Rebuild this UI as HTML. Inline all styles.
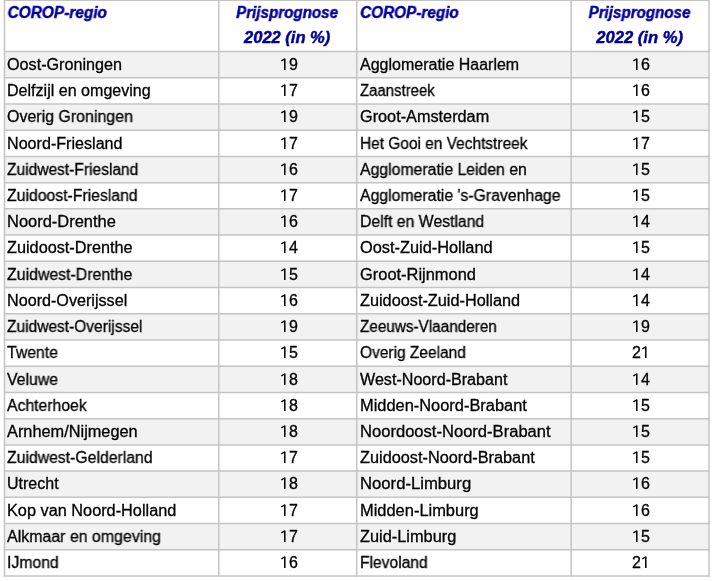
<!DOCTYPE html>
<html><head><meta charset="utf-8"><style>
html,body{margin:0;padding:0;background:#fff;}
body{width:714px;height:581px;position:relative;overflow:hidden;}
svg.grid{position:absolute;left:0;top:0;}
.t,.h{will-change:transform;}
.t{position:absolute;font-family:"Liberation Sans",sans-serif;font-size:16px;line-height:16px;color:#000;white-space:nowrap;-webkit-text-stroke:0.3px #000;}
.c{text-align:center;}
.one{vertical-align:baseline;overflow:visible;}
.h{position:absolute;font-family:"Liberation Sans",sans-serif;font-size:16px;line-height:16px;color:#00009c;font-weight:bold;font-style:italic;white-space:nowrap;-webkit-text-stroke:0.45px #00009c;}
.c2{text-align:center;}
</style></head><body>
<svg class="grid" width="714" height="581" viewBox="0 0 714 581">
<rect x="4.5" y="51.500" width="704.500" height="26.226" fill="#f2f2f2"/>
<rect x="4.5" y="103.952" width="704.500" height="26.226" fill="#f2f2f2"/>
<rect x="4.5" y="156.404" width="704.500" height="26.226" fill="#f2f2f2"/>
<rect x="4.5" y="208.856" width="704.500" height="26.226" fill="#f2f2f2"/>
<rect x="4.5" y="261.308" width="704.500" height="26.226" fill="#f2f2f2"/>
<rect x="4.5" y="313.760" width="704.500" height="26.226" fill="#f2f2f2"/>
<rect x="4.5" y="366.212" width="704.500" height="26.226" fill="#f2f2f2"/>
<rect x="4.5" y="418.664" width="704.500" height="26.226" fill="#f2f2f2"/>
<rect x="4.5" y="471.116" width="704.500" height="26.226" fill="#f2f2f2"/>
<rect x="4.5" y="523.568" width="704.500" height="26.226" fill="#f2f2f2"/>
<line x1="3.750" x2="709.750" y1="0.450" y2="0.450" stroke="#c4c4c4" stroke-width="1.1"/>
<line x1="3.750" x2="709.750" y1="51.500" y2="51.500" stroke="#c4c4c4" stroke-width="1.5"/>
<line x1="3.750" x2="709.750" y1="77.726" y2="77.726" stroke="#c4c4c4" stroke-width="1.5"/>
<line x1="3.750" x2="709.750" y1="103.952" y2="103.952" stroke="#c4c4c4" stroke-width="1.5"/>
<line x1="3.750" x2="709.750" y1="130.178" y2="130.178" stroke="#c4c4c4" stroke-width="1.5"/>
<line x1="3.750" x2="709.750" y1="156.404" y2="156.404" stroke="#c4c4c4" stroke-width="1.5"/>
<line x1="3.750" x2="709.750" y1="182.630" y2="182.630" stroke="#c4c4c4" stroke-width="1.5"/>
<line x1="3.750" x2="709.750" y1="208.856" y2="208.856" stroke="#c4c4c4" stroke-width="1.5"/>
<line x1="3.750" x2="709.750" y1="235.082" y2="235.082" stroke="#c4c4c4" stroke-width="1.5"/>
<line x1="3.750" x2="709.750" y1="261.308" y2="261.308" stroke="#c4c4c4" stroke-width="1.5"/>
<line x1="3.750" x2="709.750" y1="287.534" y2="287.534" stroke="#c4c4c4" stroke-width="1.5"/>
<line x1="3.750" x2="709.750" y1="313.760" y2="313.760" stroke="#c4c4c4" stroke-width="1.5"/>
<line x1="3.750" x2="709.750" y1="339.986" y2="339.986" stroke="#c4c4c4" stroke-width="1.5"/>
<line x1="3.750" x2="709.750" y1="366.212" y2="366.212" stroke="#c4c4c4" stroke-width="1.5"/>
<line x1="3.750" x2="709.750" y1="392.438" y2="392.438" stroke="#c4c4c4" stroke-width="1.5"/>
<line x1="3.750" x2="709.750" y1="418.664" y2="418.664" stroke="#c4c4c4" stroke-width="1.5"/>
<line x1="3.750" x2="709.750" y1="444.890" y2="444.890" stroke="#c4c4c4" stroke-width="1.5"/>
<line x1="3.750" x2="709.750" y1="471.116" y2="471.116" stroke="#c4c4c4" stroke-width="1.5"/>
<line x1="3.750" x2="709.750" y1="497.342" y2="497.342" stroke="#c4c4c4" stroke-width="1.5"/>
<line x1="3.750" x2="709.750" y1="523.568" y2="523.568" stroke="#c4c4c4" stroke-width="1.5"/>
<line x1="3.750" x2="709.750" y1="549.794" y2="549.794" stroke="#c4c4c4" stroke-width="1.5"/>
<line x1="3.750" x2="709.750" y1="576.020" y2="576.020" stroke="#c4c4c4" stroke-width="1.5"/>
<line x1="4.500" x2="4.500" y1="-0.300" y2="576.770" stroke="#c4c4c4" stroke-width="1.5"/>
<line x1="218.800" x2="218.800" y1="-0.300" y2="576.770" stroke="#c4c4c4" stroke-width="1.5"/>
<line x1="356.700" x2="356.700" y1="-0.300" y2="576.770" stroke="#c4c4c4" stroke-width="1.5"/>
<line x1="571.200" x2="571.200" y1="-0.300" y2="576.770" stroke="#c4c4c4" stroke-width="1.5"/>
<line x1="709.000" x2="709.000" y1="-0.300" y2="576.770" stroke="#c4c4c4" stroke-width="1.5"/>
</svg>
<div class="t" style="left:7.20px;top:56.86px;transform-origin:0.00px 50%;transform:translateX(0.00px) scaleX(1.0107);">Oost-Groningen</div>
<div class="t c" style="left:248.95px;top:56.86px;width:80px;"><svg class="one" width="8.9" height="12" viewBox="0 0 8.9 12"><rect x="4.05" y="0.60" width="1.5" height="11.40" fill="#000"/><line x1="1.3" y1="2.80" x2="4.8" y2="0.90" stroke="#000" stroke-width="1.35"/></svg>9</div>
<div class="t" style="left:7.20px;top:83.08px;transform-origin:0.00px 50%;transform:translateX(0.00px) scaleX(1.0036);">Delfzijl en omgeving</div>
<div class="t c" style="left:248.95px;top:83.08px;width:80px;"><svg class="one" width="8.9" height="12" viewBox="0 0 8.9 12"><rect x="4.05" y="0.60" width="1.5" height="11.40" fill="#000"/><line x1="1.3" y1="2.80" x2="4.8" y2="0.90" stroke="#000" stroke-width="1.35"/></svg>7</div>
<div class="t" style="left:7.20px;top:109.31px;transform-origin:0.00px 50%;transform:translateX(0.00px) scaleX(0.9968);">Overig Groningen</div>
<div class="t c" style="left:248.95px;top:109.31px;width:80px;"><svg class="one" width="8.9" height="12" viewBox="0 0 8.9 12"><rect x="4.05" y="0.60" width="1.5" height="11.40" fill="#000"/><line x1="1.3" y1="2.80" x2="4.8" y2="0.90" stroke="#000" stroke-width="1.35"/></svg>9</div>
<div class="t" style="left:7.20px;top:135.53px;transform-origin:0.00px 50%;transform:translateX(0.00px) scaleX(1.0071);">Noord-Friesland</div>
<div class="t c" style="left:248.95px;top:135.53px;width:80px;"><svg class="one" width="8.9" height="12" viewBox="0 0 8.9 12"><rect x="4.05" y="0.60" width="1.5" height="11.40" fill="#000"/><line x1="1.3" y1="2.80" x2="4.8" y2="0.90" stroke="#000" stroke-width="1.35"/></svg>7</div>
<div class="t" style="left:7.20px;top:161.76px;transform-origin:0.00px 50%;transform:translateX(0.00px) scaleX(0.9714);">Zuidwest-Friesland</div>
<div class="t c" style="left:248.95px;top:161.76px;width:80px;"><svg class="one" width="8.9" height="12" viewBox="0 0 8.9 12"><rect x="4.05" y="0.60" width="1.5" height="11.40" fill="#000"/><line x1="1.3" y1="2.80" x2="4.8" y2="0.90" stroke="#000" stroke-width="1.35"/></svg>6</div>
<div class="t" style="left:7.20px;top:187.99px;transform-origin:0.00px 50%;transform:translateX(0.00px) scaleX(0.9862);">Zuidoost-Friesland</div>
<div class="t c" style="left:248.95px;top:187.99px;width:80px;"><svg class="one" width="8.9" height="12" viewBox="0 0 8.9 12"><rect x="4.05" y="0.60" width="1.5" height="11.40" fill="#000"/><line x1="1.3" y1="2.80" x2="4.8" y2="0.90" stroke="#000" stroke-width="1.35"/></svg>7</div>
<div class="t" style="left:7.20px;top:214.21px;transform-origin:0.00px 50%;transform:translateX(0.00px) scaleX(1.0286);">Noord-Drenthe</div>
<div class="t c" style="left:248.95px;top:214.21px;width:80px;"><svg class="one" width="8.9" height="12" viewBox="0 0 8.9 12"><rect x="4.05" y="0.60" width="1.5" height="11.40" fill="#000"/><line x1="1.3" y1="2.80" x2="4.8" y2="0.90" stroke="#000" stroke-width="1.35"/></svg>6</div>
<div class="t" style="left:7.20px;top:240.44px;transform-origin:0.00px 50%;transform:translateX(0.00px) scaleX(1.0164);">Zuidoost-Drenthe</div>
<div class="t c" style="left:248.95px;top:240.44px;width:80px;"><svg class="one" width="8.9" height="12" viewBox="0 0 8.9 12"><rect x="4.05" y="0.60" width="1.5" height="11.40" fill="#000"/><line x1="1.3" y1="2.80" x2="4.8" y2="0.90" stroke="#000" stroke-width="1.35"/></svg>4</div>
<div class="t" style="left:7.20px;top:266.66px;transform-origin:0.00px 50%;transform:translateX(0.00px) scaleX(0.9920);">Zuidwest-Drenthe</div>
<div class="t c" style="left:248.95px;top:266.66px;width:80px;"><svg class="one" width="8.9" height="12" viewBox="0 0 8.9 12"><rect x="4.05" y="0.60" width="1.5" height="11.40" fill="#000"/><line x1="1.3" y1="2.80" x2="4.8" y2="0.90" stroke="#000" stroke-width="1.35"/></svg>5</div>
<div class="t" style="left:7.20px;top:292.89px;transform-origin:0.00px 50%;transform:translateX(0.00px) scaleX(1.0094);">Noord-Overijssel</div>
<div class="t c" style="left:248.95px;top:292.89px;width:80px;"><svg class="one" width="8.9" height="12" viewBox="0 0 8.9 12"><rect x="4.05" y="0.60" width="1.5" height="11.40" fill="#000"/><line x1="1.3" y1="2.80" x2="4.8" y2="0.90" stroke="#000" stroke-width="1.35"/></svg>6</div>
<div class="t" style="left:7.20px;top:319.12px;transform-origin:0.00px 50%;transform:translateX(0.00px) scaleX(0.9695);">Zuidwest-Overijssel</div>
<div class="t c" style="left:248.95px;top:319.12px;width:80px;"><svg class="one" width="8.9" height="12" viewBox="0 0 8.9 12"><rect x="4.05" y="0.60" width="1.5" height="11.40" fill="#000"/><line x1="1.3" y1="2.80" x2="4.8" y2="0.90" stroke="#000" stroke-width="1.35"/></svg>9</div>
<div class="t" style="left:7.20px;top:345.34px;transform-origin:0.00px 50%;transform:translateX(0.00px) scaleX(0.9880);">Twente</div>
<div class="t c" style="left:248.95px;top:345.34px;width:80px;"><svg class="one" width="8.9" height="12" viewBox="0 0 8.9 12"><rect x="4.05" y="0.60" width="1.5" height="11.40" fill="#000"/><line x1="1.3" y1="2.80" x2="4.8" y2="0.90" stroke="#000" stroke-width="1.35"/></svg>5</div>
<div class="t" style="left:7.20px;top:371.57px;transform-origin:0.00px 50%;transform:translateX(0.00px) scaleX(0.9880);">Veluwe</div>
<div class="t c" style="left:248.95px;top:371.57px;width:80px;"><svg class="one" width="8.9" height="12" viewBox="0 0 8.9 12"><rect x="4.05" y="0.60" width="1.5" height="11.40" fill="#000"/><line x1="1.3" y1="2.80" x2="4.8" y2="0.90" stroke="#000" stroke-width="1.35"/></svg>8</div>
<div class="t" style="left:7.20px;top:397.79px;transform-origin:0.00px 50%;transform:translateX(0.00px) scaleX(0.9837);">Achterhoek</div>
<div class="t c" style="left:248.95px;top:397.79px;width:80px;"><svg class="one" width="8.9" height="12" viewBox="0 0 8.9 12"><rect x="4.05" y="0.60" width="1.5" height="11.40" fill="#000"/><line x1="1.3" y1="2.80" x2="4.8" y2="0.90" stroke="#000" stroke-width="1.35"/></svg>8</div>
<div class="t" style="left:7.20px;top:424.02px;transform-origin:0.00px 50%;transform:translateX(0.00px) scaleX(1.0207);">Arnhem/Nijmegen</div>
<div class="t c" style="left:248.95px;top:424.02px;width:80px;"><svg class="one" width="8.9" height="12" viewBox="0 0 8.9 12"><rect x="4.05" y="0.60" width="1.5" height="11.40" fill="#000"/><line x1="1.3" y1="2.80" x2="4.8" y2="0.90" stroke="#000" stroke-width="1.35"/></svg>8</div>
<div class="t" style="left:7.20px;top:450.25px;transform-origin:0.00px 50%;transform:translateX(0.00px) scaleX(0.9863);">Zuidwest-Gelderland</div>
<div class="t c" style="left:248.95px;top:450.25px;width:80px;"><svg class="one" width="8.9" height="12" viewBox="0 0 8.9 12"><rect x="4.05" y="0.60" width="1.5" height="11.40" fill="#000"/><line x1="1.3" y1="2.80" x2="4.8" y2="0.90" stroke="#000" stroke-width="1.35"/></svg>7</div>
<div class="t" style="left:7.20px;top:476.47px;transform-origin:0.00px 50%;transform:translateX(0.00px) scaleX(0.9980);">Utrecht</div>
<div class="t c" style="left:248.95px;top:476.47px;width:80px;"><svg class="one" width="8.9" height="12" viewBox="0 0 8.9 12"><rect x="4.05" y="0.60" width="1.5" height="11.40" fill="#000"/><line x1="1.3" y1="2.80" x2="4.8" y2="0.90" stroke="#000" stroke-width="1.35"/></svg>8</div>
<div class="t" style="left:7.20px;top:502.70px;transform-origin:0.00px 50%;transform:translateX(0.00px) scaleX(1.0182);">Kop van Noord-Holland</div>
<div class="t c" style="left:248.95px;top:502.70px;width:80px;"><svg class="one" width="8.9" height="12" viewBox="0 0 8.9 12"><rect x="4.05" y="0.60" width="1.5" height="11.40" fill="#000"/><line x1="1.3" y1="2.80" x2="4.8" y2="0.90" stroke="#000" stroke-width="1.35"/></svg>7</div>
<div class="t" style="left:7.20px;top:528.92px;transform-origin:0.00px 50%;transform:translateX(0.00px) scaleX(0.9954);">Alkmaar en omgeving</div>
<div class="t c" style="left:248.95px;top:528.92px;width:80px;"><svg class="one" width="8.9" height="12" viewBox="0 0 8.9 12"><rect x="4.05" y="0.60" width="1.5" height="11.40" fill="#000"/><line x1="1.3" y1="2.80" x2="4.8" y2="0.90" stroke="#000" stroke-width="1.35"/></svg>7</div>
<div class="t" style="left:7.20px;top:555.15px;transform-origin:0.00px 50%;transform:translateX(0.00px) scaleX(0.9862);">IJmond</div>
<div class="t c" style="left:248.95px;top:555.15px;width:80px;"><svg class="one" width="8.9" height="12" viewBox="0 0 8.9 12"><rect x="4.05" y="0.60" width="1.5" height="11.40" fill="#000"/><line x1="1.3" y1="2.80" x2="4.8" y2="0.90" stroke="#000" stroke-width="1.35"/></svg>6</div>
<div class="h" style="left:7.80px;top:4.86px;transform-origin:0.20px 50%;transform:translateX(-0.40px) scaleX(0.9637);">COROP-regio</div>
<div class="h c2" style="left:227.75px;top:4.86px;width:120px;transform-origin:6.25px 50%;transform:translateX(1.90px) scaleX(0.9467);">Prijsprognose</div>
<div class="h c2" style="left:227.75px;top:29.66px;width:120px;transform-origin:18.25px 50%;transform:translateX(-2.20px) scaleX(1.0325);">2022 (in %)</div>
<div class="t" style="left:360.00px;top:56.86px;transform-origin:0.00px 50%;transform:translateX(0.00px) scaleX(0.9994);">Agglomeratie Haarlem</div>
<div class="t c" style="left:601.30px;top:56.86px;width:80px;"><svg class="one" width="8.9" height="12" viewBox="0 0 8.9 12"><rect x="4.05" y="0.60" width="1.5" height="11.40" fill="#000"/><line x1="1.3" y1="2.80" x2="4.8" y2="0.90" stroke="#000" stroke-width="1.35"/></svg>6</div>
<div class="t" style="left:360.00px;top:83.08px;transform-origin:0.00px 50%;transform:translateX(0.00px) scaleX(0.9329);">Zaanstreek</div>
<div class="t c" style="left:601.30px;top:83.08px;width:80px;"><svg class="one" width="8.9" height="12" viewBox="0 0 8.9 12"><rect x="4.05" y="0.60" width="1.5" height="11.40" fill="#000"/><line x1="1.3" y1="2.80" x2="4.8" y2="0.90" stroke="#000" stroke-width="1.35"/></svg>6</div>
<div class="t" style="left:360.00px;top:109.31px;transform-origin:0.00px 50%;transform:translateX(0.00px) scaleX(1.0160);">Groot-Amsterdam</div>
<div class="t c" style="left:601.30px;top:109.31px;width:80px;"><svg class="one" width="8.9" height="12" viewBox="0 0 8.9 12"><rect x="4.05" y="0.60" width="1.5" height="11.40" fill="#000"/><line x1="1.3" y1="2.80" x2="4.8" y2="0.90" stroke="#000" stroke-width="1.35"/></svg>5</div>
<div class="t" style="left:360.00px;top:135.53px;transform-origin:0.00px 50%;transform:translateX(0.00px) scaleX(0.9653);">Het Gooi en Vechtstreek</div>
<div class="t c" style="left:601.30px;top:135.53px;width:80px;"><svg class="one" width="8.9" height="12" viewBox="0 0 8.9 12"><rect x="4.05" y="0.60" width="1.5" height="11.40" fill="#000"/><line x1="1.3" y1="2.80" x2="4.8" y2="0.90" stroke="#000" stroke-width="1.35"/></svg>7</div>
<div class="t" style="left:360.00px;top:161.76px;transform-origin:0.00px 50%;transform:translateX(0.00px) scaleX(0.9874);">Agglomeratie Leiden en</div>
<div class="t c" style="left:601.30px;top:161.76px;width:80px;"><svg class="one" width="8.9" height="12" viewBox="0 0 8.9 12"><rect x="4.05" y="0.60" width="1.5" height="11.40" fill="#000"/><line x1="1.3" y1="2.80" x2="4.8" y2="0.90" stroke="#000" stroke-width="1.35"/></svg>5</div>
<div class="t" style="left:360.00px;top:187.99px;transform-origin:0.00px 50%;transform:translateX(0.00px) scaleX(0.9871);">Agglomeratie &#39;s-Gravenhage</div>
<div class="t c" style="left:601.30px;top:187.99px;width:80px;"><svg class="one" width="8.9" height="12" viewBox="0 0 8.9 12"><rect x="4.05" y="0.60" width="1.5" height="11.40" fill="#000"/><line x1="1.3" y1="2.80" x2="4.8" y2="0.90" stroke="#000" stroke-width="1.35"/></svg>5</div>
<div class="t" style="left:360.00px;top:214.21px;transform-origin:0.00px 50%;transform:translateX(0.00px) scaleX(0.9863);">Delft en Westland</div>
<div class="t c" style="left:601.30px;top:214.21px;width:80px;"><svg class="one" width="8.9" height="12" viewBox="0 0 8.9 12"><rect x="4.05" y="0.60" width="1.5" height="11.40" fill="#000"/><line x1="1.3" y1="2.80" x2="4.8" y2="0.90" stroke="#000" stroke-width="1.35"/></svg>4</div>
<div class="t" style="left:360.00px;top:240.44px;transform-origin:0.00px 50%;transform:translateX(0.00px) scaleX(1.0211);">Oost-Zuid-Holland</div>
<div class="t c" style="left:601.30px;top:240.44px;width:80px;"><svg class="one" width="8.9" height="12" viewBox="0 0 8.9 12"><rect x="4.05" y="0.60" width="1.5" height="11.40" fill="#000"/><line x1="1.3" y1="2.80" x2="4.8" y2="0.90" stroke="#000" stroke-width="1.35"/></svg>5</div>
<div class="t" style="left:360.00px;top:266.66px;transform-origin:0.00px 50%;transform:translateX(0.00px) scaleX(1.0270);">Groot-Rijnmond</div>
<div class="t c" style="left:601.30px;top:266.66px;width:80px;"><svg class="one" width="8.9" height="12" viewBox="0 0 8.9 12"><rect x="4.05" y="0.60" width="1.5" height="11.40" fill="#000"/><line x1="1.3" y1="2.80" x2="4.8" y2="0.90" stroke="#000" stroke-width="1.35"/></svg>4</div>
<div class="t" style="left:360.00px;top:292.89px;transform-origin:0.00px 50%;transform:translateX(0.00px) scaleX(1.0173);">Zuidoost-Zuid-Holland</div>
<div class="t c" style="left:601.30px;top:292.89px;width:80px;"><svg class="one" width="8.9" height="12" viewBox="0 0 8.9 12"><rect x="4.05" y="0.60" width="1.5" height="11.40" fill="#000"/><line x1="1.3" y1="2.80" x2="4.8" y2="0.90" stroke="#000" stroke-width="1.35"/></svg>4</div>
<div class="t" style="left:360.00px;top:319.12px;transform-origin:0.00px 50%;transform:translateX(0.00px) scaleX(0.9553);">Zeeuws-Vlaanderen</div>
<div class="t c" style="left:601.30px;top:319.12px;width:80px;"><svg class="one" width="8.9" height="12" viewBox="0 0 8.9 12"><rect x="4.05" y="0.60" width="1.5" height="11.40" fill="#000"/><line x1="1.3" y1="2.80" x2="4.8" y2="0.90" stroke="#000" stroke-width="1.35"/></svg>9</div>
<div class="t" style="left:360.00px;top:345.34px;transform-origin:0.00px 50%;transform:translateX(0.00px) scaleX(0.9676);">Overig Zeeland</div>
<div class="t c" style="left:601.30px;top:345.34px;width:80px;">2<svg class="one" width="8.9" height="12" viewBox="0 0 8.9 12"><rect x="4.05" y="0.60" width="1.5" height="11.40" fill="#000"/><line x1="1.3" y1="2.80" x2="4.8" y2="0.90" stroke="#000" stroke-width="1.35"/></svg></div>
<div class="t" style="left:360.00px;top:371.57px;transform-origin:0.00px 50%;transform:translateX(0.00px) scaleX(1.0068);">West-Noord-Brabant</div>
<div class="t c" style="left:601.30px;top:371.57px;width:80px;"><svg class="one" width="8.9" height="12" viewBox="0 0 8.9 12"><rect x="4.05" y="0.60" width="1.5" height="11.40" fill="#000"/><line x1="1.3" y1="2.80" x2="4.8" y2="0.90" stroke="#000" stroke-width="1.35"/></svg>4</div>
<div class="t" style="left:360.00px;top:397.79px;transform-origin:0.00px 50%;transform:translateX(0.00px) scaleX(1.0253);">Midden-Noord-Brabant</div>
<div class="t c" style="left:601.30px;top:397.79px;width:80px;"><svg class="one" width="8.9" height="12" viewBox="0 0 8.9 12"><rect x="4.05" y="0.60" width="1.5" height="11.40" fill="#000"/><line x1="1.3" y1="2.80" x2="4.8" y2="0.90" stroke="#000" stroke-width="1.35"/></svg>5</div>
<div class="t" style="left:360.00px;top:424.02px;transform-origin:0.00px 50%;transform:translateX(0.00px) scaleX(1.0355);">Noordoost-Noord-Brabant</div>
<div class="t c" style="left:601.30px;top:424.02px;width:80px;"><svg class="one" width="8.9" height="12" viewBox="0 0 8.9 12"><rect x="4.05" y="0.60" width="1.5" height="11.40" fill="#000"/><line x1="1.3" y1="2.80" x2="4.8" y2="0.90" stroke="#000" stroke-width="1.35"/></svg>5</div>
<div class="t" style="left:360.00px;top:450.25px;transform-origin:0.00px 50%;transform:translateX(0.00px) scaleX(1.0181);">Zuidoost-Noord-Brabant</div>
<div class="t c" style="left:601.30px;top:450.25px;width:80px;"><svg class="one" width="8.9" height="12" viewBox="0 0 8.9 12"><rect x="4.05" y="0.60" width="1.5" height="11.40" fill="#000"/><line x1="1.3" y1="2.80" x2="4.8" y2="0.90" stroke="#000" stroke-width="1.35"/></svg>5</div>
<div class="t" style="left:360.00px;top:476.47px;transform-origin:0.00px 50%;transform:translateX(0.00px) scaleX(1.0419);">Noord-Limburg</div>
<div class="t c" style="left:601.30px;top:476.47px;width:80px;"><svg class="one" width="8.9" height="12" viewBox="0 0 8.9 12"><rect x="4.05" y="0.60" width="1.5" height="11.40" fill="#000"/><line x1="1.3" y1="2.80" x2="4.8" y2="0.90" stroke="#000" stroke-width="1.35"/></svg>6</div>
<div class="t" style="left:360.00px;top:502.70px;transform-origin:0.00px 50%;transform:translateX(0.00px) scaleX(1.0272);">Midden-Limburg</div>
<div class="t c" style="left:601.30px;top:502.70px;width:80px;"><svg class="one" width="8.9" height="12" viewBox="0 0 8.9 12"><rect x="4.05" y="0.60" width="1.5" height="11.40" fill="#000"/><line x1="1.3" y1="2.80" x2="4.8" y2="0.90" stroke="#000" stroke-width="1.35"/></svg>6</div>
<div class="t" style="left:360.00px;top:528.92px;transform-origin:0.00px 50%;transform:translateX(0.00px) scaleX(1.0217);">Zuid-Limburg</div>
<div class="t c" style="left:601.30px;top:528.92px;width:80px;"><svg class="one" width="8.9" height="12" viewBox="0 0 8.9 12"><rect x="4.05" y="0.60" width="1.5" height="11.40" fill="#000"/><line x1="1.3" y1="2.80" x2="4.8" y2="0.90" stroke="#000" stroke-width="1.35"/></svg>5</div>
<div class="t" style="left:360.00px;top:555.15px;transform-origin:0.00px 50%;transform:translateX(0.00px) scaleX(0.9750);">Flevoland</div>
<div class="t c" style="left:601.30px;top:555.15px;width:80px;">2<svg class="one" width="8.9" height="12" viewBox="0 0 8.9 12"><rect x="4.05" y="0.60" width="1.5" height="11.40" fill="#000"/><line x1="1.3" y1="2.80" x2="4.8" y2="0.90" stroke="#000" stroke-width="1.35"/></svg></div>
<div class="h" style="left:360.00px;top:4.86px;transform-origin:0.00px 50%;transform:translateX(0.20px) scaleX(0.9559);">COROP-regio</div>
<div class="h c2" style="left:580.10px;top:4.86px;width:120px;transform-origin:5.90px 50%;transform:translateX(2.40px) scaleX(0.9458);">Prijsprognose</div>
<div class="h c2" style="left:580.10px;top:29.66px;width:120px;transform-origin:17.90px 50%;transform:translateX(-2.00px) scaleX(1.0386);">2022 (in %)</div>
</body></html>
